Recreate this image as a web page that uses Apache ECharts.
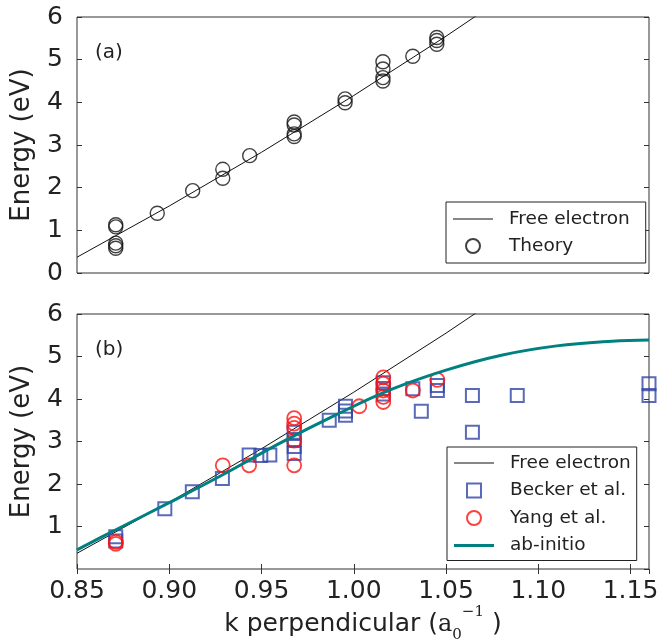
<!DOCTYPE html>
<html>
<head>
<meta charset="utf-8">
<script src="https://cdn.jsdelivr.net/npm/echarts@6/dist/echarts.min.js"></script>
<style>html,body{margin:0;padding:0;background:#fff;}#c{width:665px;height:640px;}</style>
</head>
<body>
<div id="c"></div>
<script>
// ---- data ----
const theoryK = [0.871,0.871,0.871,0.871,0.871,0.8935,0.9127,0.929,0.929,0.9436,0.9677,0.9677,0.9677,0.9677,0.9953,0.9953,1.0158,1.0158,1.0158,1.0158,1.032,1.045,1.045,1.045];
const theoryE = [1.13,1.08,0.70,0.64,0.58,1.40,1.93,2.43,2.22,2.75,3.54,3.47,3.26,3.20,4.08,3.99,4.95,4.78,4.58,4.50,5.08,5.52,5.45,5.36];

const freeK = [0.85,0.90,0.95,1.00,1.05,1.10];
const freeE = [0.37,1.57,2.83,4.16,5.55,7.01];

const beckerK = [0.871,0.871,0.8976,0.9125,0.9288,0.9433,0.9496,0.9545,0.9677,0.9677,0.9677,0.9677,0.9867,0.9955,0.9955,0.9955,1.016,1.016,1.016,1.032,1.0366,1.0453,1.0453,1.0643,1.0643,1.0886,1.16,1.16];
const beckerE = [0.76,0.66,1.42,1.82,2.13,2.68,2.67,2.68,3.22,3.05,2.88,2.72,3.50,3.83,3.72,3.62,4.38,4.25,4.12,4.24,3.71,4.32,4.20,4.08,3.22,4.08,4.36,4.08];

const yangK = [0.871,0.871,0.929,0.9433,0.9677,0.9677,0.9677,0.9677,0.9677,1.003,1.016,1.016,1.016,1.016,1.016,1.032,1.0453];
const yangE = [0.64,0.59,2.44,2.44,3.55,3.42,3.32,3.02,2.44,3.83,4.51,4.36,4.20,4.05,3.93,4.20,4.45];

const abK = [0.85,0.87,0.90,0.93,0.96,0.99,1.02,1.05,1.08,1.11,1.14,1.16];
const abE = [0.45,0.90,1.56,2.24,2.96,3.62,4.22,4.68,5.03,5.25,5.36,5.39];

const xMin = 0.85, xMax = 1.16, xStep = 0.05;
const yMin = 0, yMax = 6, yStep = 1;

// ---- chart ----
const pair = (xs, ys) => xs.map((x, i) => [x, ys[i]]);
const FONT = 'DejaVu Sans';
const INK = '#222';
const FRAME = '#333';
const BLUE = '#2f45a8';
const RED = '#ff1010';
const TEAL = '#008080';

const chart = echarts.init(document.getElementById('c'), null, {renderer: 'canvas'});

function xAx(grid, pos, labels) {
  return {
    type: 'value', gridIndex: grid, position: pos, min: xMin, max: xMax, interval: xStep,
    axisLine: {show: false},
    axisTick: {show: true, inside: true, length: 5, lineStyle: {color: FRAME, width: 1}},
    splitLine: {show: false},
    axisLabel: {show: labels, margin: 10, fontFamily: FONT, fontSize: 25, color: INK,
      formatter: v => v.toFixed(2)}
  };
}
function yAx(grid, pos, labels, showMin) {
  return {
    type: 'value', gridIndex: grid, position: pos, min: yMin, max: yMax, interval: yStep,
    axisLine: {show: false},
    axisTick: {show: true, inside: true, length: 5, lineStyle: {color: FRAME, width: 1}},
    splitLine: {show: false},
    axisLabel: {show: labels, showMinLabel: showMin, margin: 14, fontFamily: FONT, fontSize: 25, color: INK},
    name: labels ? 'Energy (eV)' : '',
    nameLocation: 'middle', nameGap: 42,
    nameTextStyle: {fontFamily: FONT, fontSize: 26, color: INK}
  };
}

const xTop = xAx(0, 'bottom', false);
xTop.axisTick.show = false;
const xBottom = xAx(1, 'bottom', true);
xBottom.name = '{t|k perpendicular (}{m|a}{sub|0}{sup|−1}{t| )}';
xBottom.nameLocation = 'middle';
xBottom.nameGap = 33;
xBottom.nameTextStyle = {
  rich: {
    t: {fontFamily: FONT, fontSize: 25, color: INK, lineHeight: 40, verticalAlign: 'middle'},
    m: {fontFamily: 'DejaVu Serif', fontSize: 24, color: INK, lineHeight: 40, verticalAlign: 'middle'},
    sub: {fontFamily: 'DejaVu Serif', fontSize: 15, color: INK, verticalAlign: 'bottom', padding: [0, 0, 2, 0]},
    sup: {fontFamily: 'DejaVu Serif', fontSize: 15, color: INK, verticalAlign: 'top', padding: [0, 0, 0, 0], lineHeight: 15}
  }
};
const xBottomTop = xAx(1, 'top', false);

const legendBase = {
  orient: 'vertical', itemWidth: 40, itemHeight: 14, selectedMode: false,
  backgroundColor: '#fff', borderColor: INK, borderWidth: 1, borderRadius: 0,
  textStyle: {fontFamily: FONT, fontSize: 18.5, color: INK, lineHeight: 20, padding: [0, 0, 0, 11]}
};
const ICON_THIN_LINE = 'path://M0,0H40V1H0Z';
const ICON_THICK_LINE = 'path://M0,0H40V3H0Z';
const ICON_SQUARE = 'path://M0,0H12V12H0Z';

const option = {
  animation: false,
  backgroundColor: '#fff',
  title: [
    {text: '(a)', left: 95, top: 43, padding: 0, textStyle: {fontFamily: FONT, fontSize: 20, fontWeight: 'normal', color: INK}},
    {text: '(b)', left: 95, top: 340, padding: 0, textStyle: {fontFamily: FONT, fontSize: 20, fontWeight: 'normal', color: INK}}
  ],
  grid: [
    {left: 77, right: 16, top: 17, height: 256, show: true, borderColor: FRAME, borderWidth: 1,
      backgroundColor: 'transparent', outerBoundsMode: 'none', containLabel: false},
    {left: 77, right: 16, top: 314, height: 255, show: true, borderColor: FRAME, borderWidth: 1,
      backgroundColor: 'transparent', outerBoundsMode: 'none', containLabel: false}
  ],
  xAxis: [xTop, xBottom, xBottomTop],
  yAxis: [yAx(0, 'left', true, true), yAx(1, 'left', true, false), yAx(0, 'right', false, true), yAx(1, 'right', false, true)],
  legend: [
    Object.assign({}, legendBase, {left: 446, top: 202, padding: [7, 16, 7, 7], itemGap: 7,
      data: [{name: 'Free electron', icon: ICON_THIN_LINE}, {name: 'Theory'}]}),
    Object.assign({}, legendBase, {left: 447, top: 447, padding: [6, 6, 5, 7], itemGap: 7.5,
      data: [{name: 'Free electron', icon: ICON_THIN_LINE}, {name: 'Becker et al.', icon: ICON_SQUARE},
             {name: 'Yang et al.'}, {name: 'ab-initio', icon: ICON_THICK_LINE}]})
  ],
  series: [
    {name: 'Free electron', type: 'line', xAxisIndex: 0, yAxisIndex: 0, data: pair(freeK, freeE),
      symbol: 'none', lineStyle: {color: '#111', width: 1}, itemStyle: {color: '#111', borderWidth: 0}, z: 2},
    {name: 'Theory', type: 'scatter', xAxisIndex: 0, yAxisIndex: 0, data: pair(theoryK, theoryE),
      symbol: 'circle', symbolSize: 14,
      itemStyle: {color: 'rgba(0,0,0,0)', borderColor: '#111', borderWidth: 1.4}, z: 3},
    {name: 'Free electron', type: 'line', xAxisIndex: 1, yAxisIndex: 1, data: pair(freeK, freeE),
      symbol: 'none', lineStyle: {color: '#111', width: 1}, itemStyle: {color: '#111', borderWidth: 0}, z: 2},
    {name: 'Becker et al.', type: 'scatter', xAxisIndex: 1, yAxisIndex: 1, data: pair(beckerK, beckerE),
      symbol: 'rect', symbolSize: 13,
      itemStyle: {color: 'rgba(0,0,0,0)', borderColor: BLUE, borderWidth: 2}, z: 3},
    {name: 'Yang et al.', type: 'scatter', xAxisIndex: 1, yAxisIndex: 1, data: pair(yangK, yangE),
      symbol: 'circle', symbolSize: 14,
      itemStyle: {color: 'rgba(0,0,0,0)', borderColor: RED, borderWidth: 1.8}, z: 4},
    {name: 'ab-initio', type: 'line', xAxisIndex: 1, yAxisIndex: 1, data: pair(abK, abE),
      symbol: 'none', smooth: 0.4, lineStyle: {color: TEAL, width: 3}, itemStyle: {color: TEAL, borderWidth: 0}, z: 5}
  ]
};
chart.setOption(option);
</script>
</body>
</html>
